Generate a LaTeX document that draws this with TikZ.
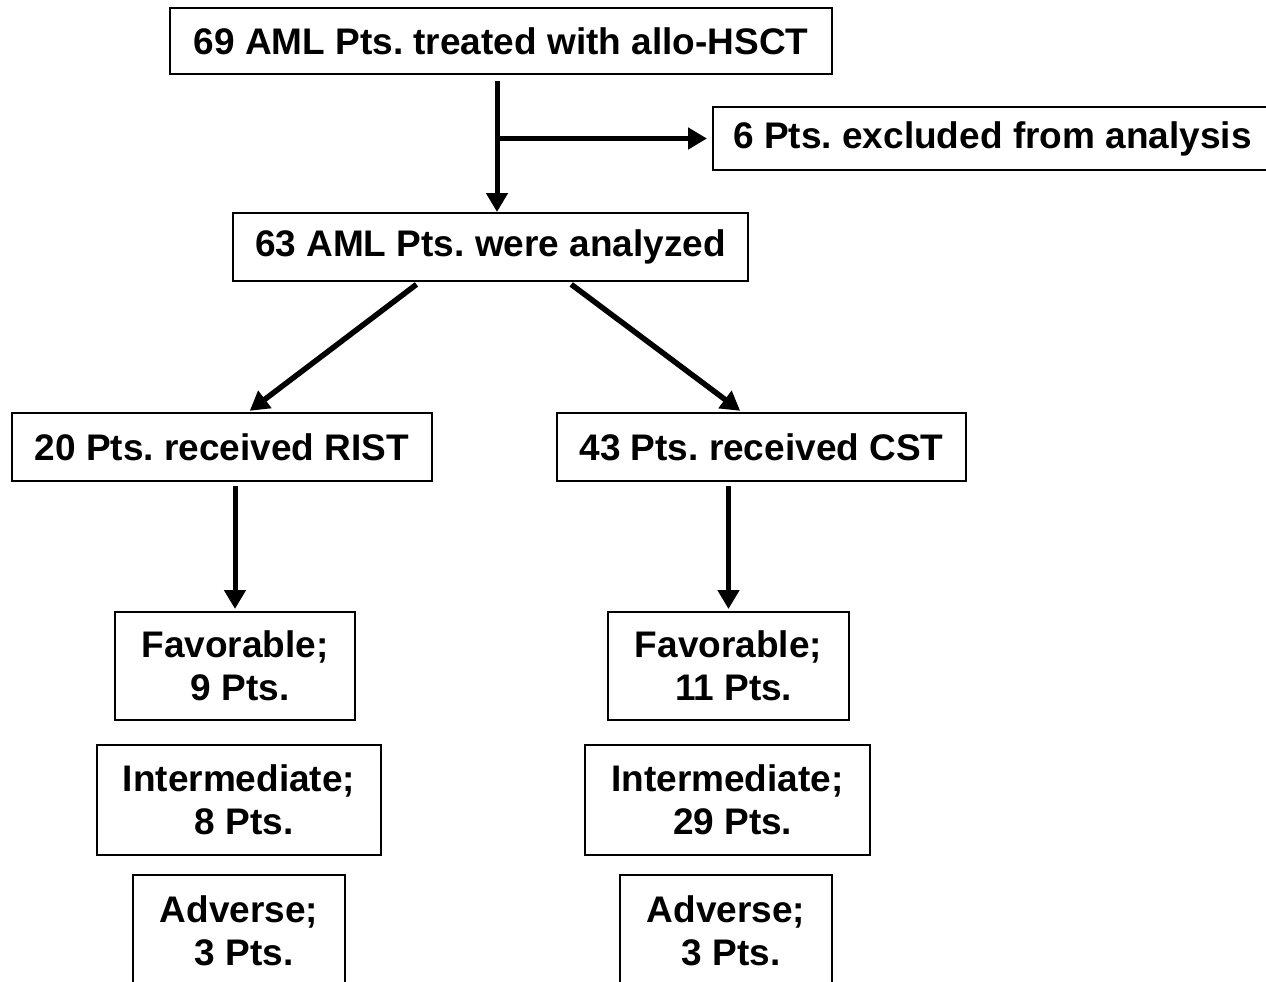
\documentclass[tikz,border=0pt]{standalone}
\usepackage{fontspec}
\setmainfont{Liberation Sans}
\usetikzlibrary{arrows.meta,calc}
\frenchspacing

\begin{document}
\begin{tikzpicture}[x = 1pt, y = -1pt,
    box/.style = {draw, line width = 2pt, inner sep = 0pt, align = center,
      font = \fontsize{37}{43}\selectfont\bfseries},
    link/.style = {-{Triangle[length = 19pt, width = 21pt]}, line width = 5pt}]
  \useasboundingbox (0, 0) rectangle (1266, 982);
  \clip (0, 0) rectangle (1266, 982);
  % top of the chart
  \node[box, minimum width = 662pt, minimum height = 66pt] (Treated) at (501, 41) {69 AML Pts. treated with allo-HSCT};
  \node[box, minimum width = 559pt, minimum height = 63pt] (Excluded) at (992.5, 138.5) {6 Pts. excluded from analysis};
  \node[box, minimum width = 515pt, minimum height = 68pt] (Analyzed) at (490.5, 247) {63 AML Pts. were analyzed};
  \coordinate (Split) at (497, 138.5);
  \draw[link, shorten <= 6pt] (Treated.south -| Split) -- (Analyzed.north -| Split);
  \draw[link, shorten >= 5pt] (Split) -- (Excluded.west);
  % two arms
  \node[box, minimum width = 420pt, minimum height = 68pt] (RIST) at (222, 447) {20 Pts. received RIST};
  \node[box, minimum width = 409pt, minimum height = 68pt] (CST) at (761.5, 447) {43 Pts. received CST};
  \draw[link, line width = 5.5pt, shorten <= 4pt, shorten >= 2pt] ($(Analyzed.south west)!0.363!(Analyzed.south east)$) -- ($(RIST.north west)!0.562!(RIST.north east)$);
  \draw[link, line width = 5.5pt, shorten <= 4pt, shorten >= 2pt] ($(Analyzed.south west)!0.65!(Analyzed.south east)$) -- ($(CST.north west)!0.452!(CST.north east)$);
  % risk groups, RIST
  \node[box, minimum width = 240pt, minimum height = 108pt] (RIST Fav) at (235, 666) {Favorable;\\ \ 9 Pts.};
  \node[box, minimum width = 284pt, minimum height = 110pt] (RIST Int) at (239, 800) {Intermediate;\\ \ 8 Pts.};
  \node[box, minimum width = 212pt, minimum height = 111pt] (RIST Adv) at (239, 930.5) {Adverse;\\ \ 3 Pts.};
  % risk groups, CST
  \node[box, minimum width = 241pt, minimum height = 108pt] (CST Fav) at (728.5, 666) {Favorable;\\ \ 11 Pts.};
  \node[box, minimum width = 285pt, minimum height = 110pt] (CST Int) at (727.5, 800) {Intermediate;\\ \ 29 Pts.};
  \node[box, minimum width = 212pt, minimum height = 111pt] (CST Adv) at (726, 930.5) {Adverse;\\ \ 3 Pts.};
  \draw[link, shorten <= 4pt, shorten >= 2pt] (RIST.south -| RIST Fav.north) -- (RIST Fav.north);
  \draw[link, shorten <= 4pt, shorten >= 2pt] (CST.south -| CST Fav.north) -- (CST Fav.north);
\end{tikzpicture}
\end{document}
